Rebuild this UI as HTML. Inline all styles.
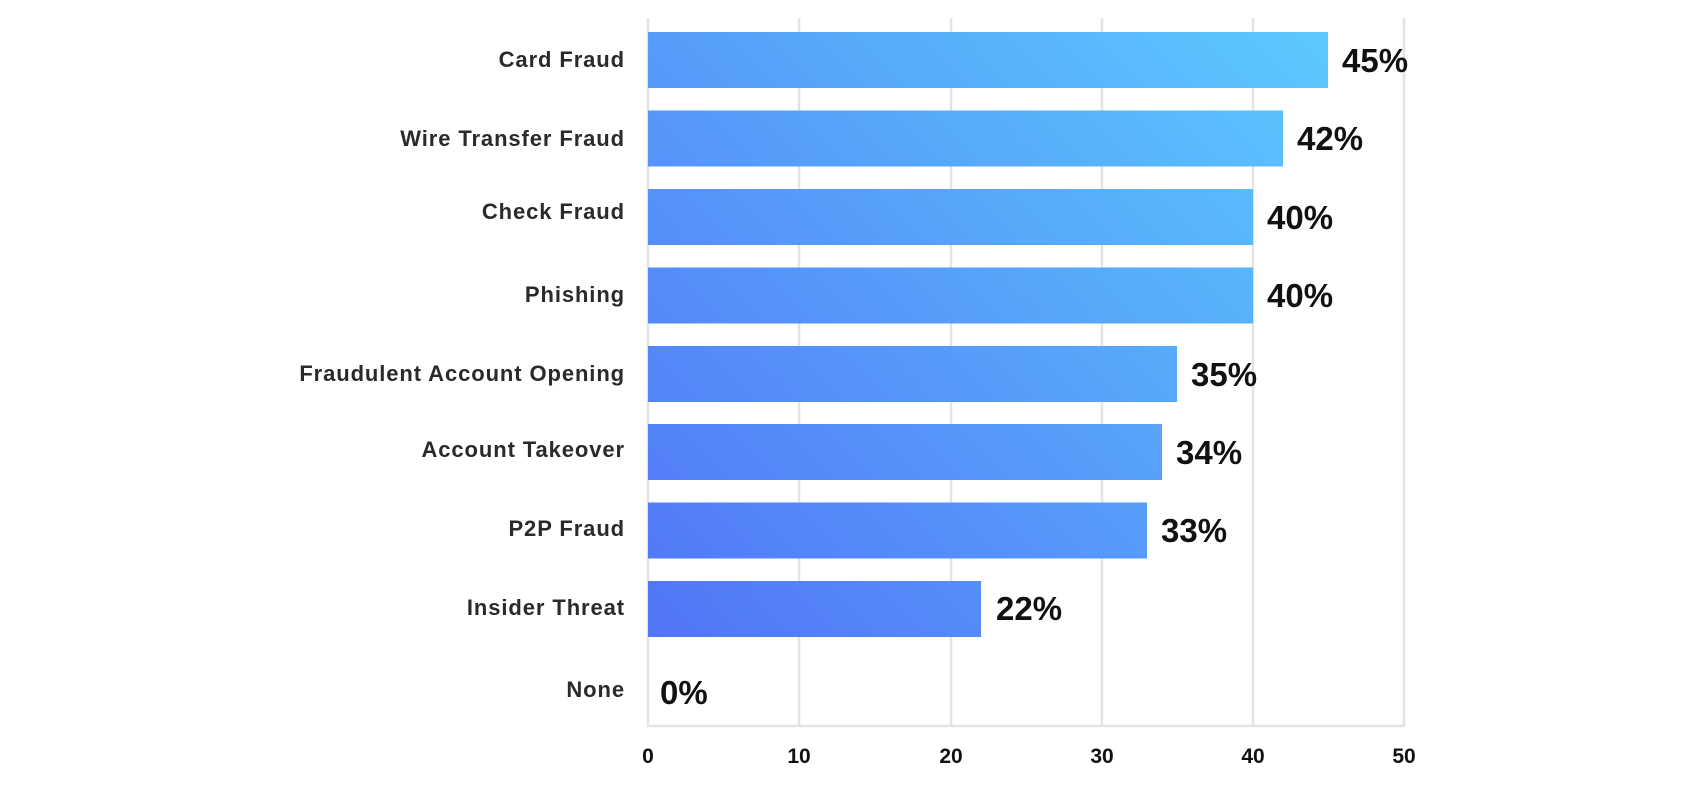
<!DOCTYPE html>
<html><head><meta charset="utf-8"><style>
html,body{margin:0;padding:0;background:#fff;}
svg{display:block;}
.lab{font-family:"Liberation Sans",sans-serif;font-size:22px;font-weight:bold;fill:#2a2a2a;letter-spacing:0.9px;}
.val{font-family:"Liberation Sans",sans-serif;font-size:33px;font-weight:bold;fill:#111;}
.tick{font-family:"Liberation Sans",sans-serif;font-size:21px;font-weight:bold;fill:#111;}
</style></head><body>
<svg width="1700" height="789" viewBox="0 0 1700 789" xmlns="http://www.w3.org/2000/svg">
<defs>
<linearGradient id="g" gradientUnits="userSpaceOnUse" x1="648" y1="700" x2="1330" y2="30">
<stop offset="0" stop-color="#5270f6"/>
<stop offset="1" stop-color="#5bcafd"/>
</linearGradient>
</defs>
<g stroke="#e4e4e4" stroke-width="2.5">
<line x1="648" y1="18" x2="648" y2="726"/>
<line x1="799" y1="18" x2="799" y2="726"/>
<line x1="951" y1="18" x2="951" y2="726"/>
<line x1="1102" y1="18" x2="1102" y2="726"/>
<line x1="1253" y1="18" x2="1253" y2="726"/>
<line x1="1404" y1="18" x2="1404" y2="726"/>
<line x1="647" y1="726" x2="1405" y2="726"/>
</g>
<g fill="url(#g)">
<rect x="648" y="32" width="680" height="56"/>
<rect x="648" y="110.5" width="635" height="56"/>
<rect x="648" y="189" width="605" height="56"/>
<rect x="648" y="267.5" width="605" height="56"/>
<rect x="648" y="346" width="529" height="56"/>
<rect x="648" y="424" width="514" height="56"/>
<rect x="648" y="502.5" width="499" height="56"/>
<rect x="648" y="581" width="333" height="56"/>
</g>
<g class="lab" text-anchor="end">
<text x="625" y="67">Card Fraud</text>
<text x="625" y="146">Wire Transfer Fraud</text>
<text x="625" y="219">Check Fraud</text>
<text x="625" y="302">Phishing</text>
<text x="625" y="381">Fraudulent Account Opening</text>
<text x="625" y="457">Account Takeover</text>
<text x="625" y="536">P2P Fraud</text>
<text x="625" y="615">Insider Threat</text>
<text x="625" y="697">None</text>
</g>
<g class="val">
<text x="1342" y="72">45%</text>
<text x="1297" y="150">42%</text>
<text x="1267" y="229">40%</text>
<text x="1267" y="307">40%</text>
<text x="1191" y="386">35%</text>
<text x="1176" y="464">34%</text>
<text x="1161" y="542">33%</text>
<text x="996" y="620">22%</text>
<text x="660" y="704">0%</text>
</g>
<g class="tick" text-anchor="middle">
<text x="648" y="763">0</text>
<text x="799" y="763">10</text>
<text x="951" y="763">20</text>
<text x="1102" y="763">30</text>
<text x="1253" y="763">40</text>
<text x="1404" y="763">50</text>
</g>
</svg>
</body></html>
